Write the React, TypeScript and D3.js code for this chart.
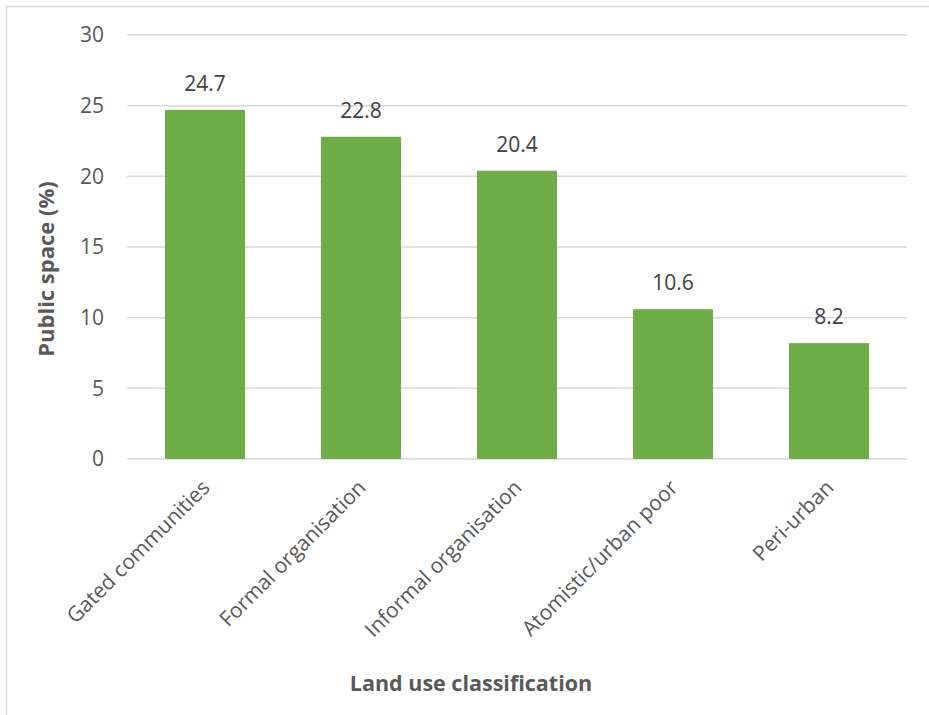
import React from "react";
import * as d3 from "d3";

const categories = [
  "Gated communities",
  "Formal organisation",
  "Informal organisation",
  "Atomistic/urban poor",
  "Peri-urban",
];
const publicSpace = [24.7, 22.8, 20.4, 10.6, 8.2];
const yTicks = [0, 5, 10, 15, 20, 25, 30];

const W = 929;
const H = 715;
const plot = { left: 127, right: 907, top: 35, bottom: 459 };
const FONT = "'Open Sans', Calibri, sans-serif";

export default function App() {
  const x = d3
    .scaleBand<string>()
    .domain(categories)
    .range([plot.left, plot.right])
    .paddingInner(0.487)
    .paddingOuter(0.2435);
  const y = d3.scaleLinear().domain([0, 30]).range([plot.bottom, plot.top]);

  return (
    <svg
      width={W}
      height={H}
      style={{ position: "absolute", left: 0, top: 0, background: "#fff" }}
    >
      <rect x={6.5} y={6.5} width={W} height={H} fill="#fff" stroke="#d9d9d9" strokeWidth={1.5} />
      {yTicks.map((t) => (
        <g key={t}>
          <line
            x1={plot.left}
            x2={plot.right}
            y1={y(t)}
            y2={y(t)}
            stroke="#d9d9d9"
            strokeWidth={1.5}
          />
          <text
            x={104}
            y={y(t)}
            dy="0.35em"
            textAnchor="end"
            fontFamily={FONT}
            fontSize={21}
            fill="#595959"
          >
            {t}
          </text>
        </g>
      ))}
      {categories.map((c, i) => {
        const v = publicSpace[i];
        const bx = x(c)!;
        const cx = bx + x.bandwidth() / 2;
        return (
          <g key={c}>
            <rect
              x={bx}
              y={y(v)}
              width={x.bandwidth()}
              height={y(0) - y(v)}
              fill="#70ad47"
            />
            <text
              x={cx}
              y={y(v) - 19}
              textAnchor="middle"
              fontFamily={FONT}
              fontSize={21}
              fill="#404040"
            >
              {v.toFixed(1)}
            </text>
            <text
              transform={`translate(${cx + 6},${plot.bottom + 30}) rotate(-45)`}
              textAnchor="end"
              fontFamily={FONT}
              fontSize={21}
              fill="#595959"
            >
              {c}
            </text>
          </g>
        );
      })}
      <text
        transform={`translate(54,${(plot.top + plot.bottom) / 2 + 22}) rotate(-90)`}
        textAnchor="middle"
        fontFamily={FONT}
        fontSize={22}
        fontWeight="bold"
        fill="#595959"
      >
        Public space (%)
      </text>
      <text
        x={471}
        y={691}
        textAnchor="middle"
        fontFamily={FONT}
        fontSize={21.5}
        fontWeight="bold"
        fill="#595959"
      >
        Land use classification
      </text>
    </svg>
  );
}
